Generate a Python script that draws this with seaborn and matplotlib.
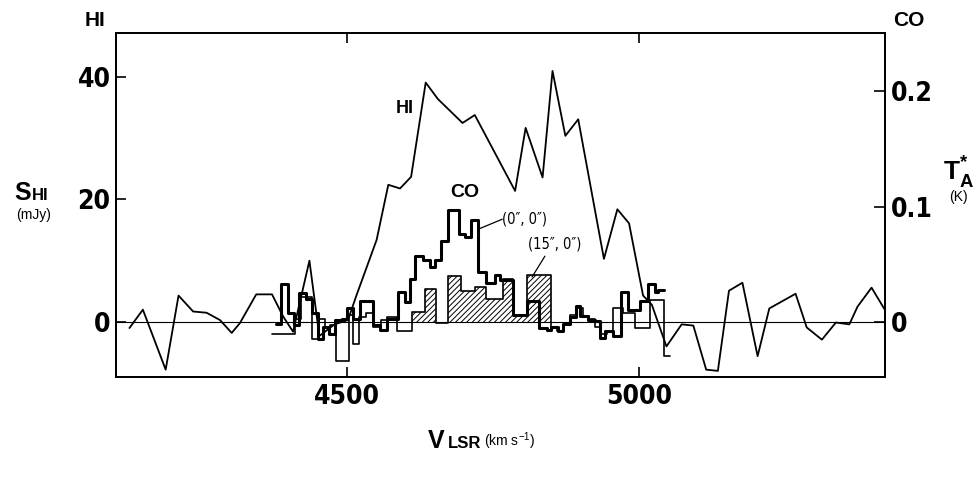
import numpy as np
import pandas as pd
import matplotlib
matplotlib.use('Agg')
import matplotlib.pyplot as plt
import matplotlib.font_manager as fm
import seaborn as sns

# HI profile: velocity (km/s) and flux density (mJy)
hi_vel = [4128, 4151, 4190, 4212, 4237, 4260, 4283, 4303, 4317, 4345, 4365, 4372,
          4391, 4408, 4436, 4453, 4479, 4502, 4516, 4551, 4571, 4591, 4610, 4635,
          4656, 4698, 4719, 4788, 4806, 4835, 4852, 4874, 4896, 4940, 4963, 4983,
          5007, 5022, 5047, 5073, 5093, 5115, 5135, 5154, 5177, 5203, 5223, 5268,
          5287, 5313, 5337, 5360, 5374, 5398, 5420]
hi_flux = [-1.0, 2.0, -7.8, 4.3, 1.7, 1.5, 0.3, -1.8, -0.2, 4.5, 4.5, 4.5,
           0.9, -1.6, 10.0, -2.3, -0.4, 0.3, 4.2, 13.4, 22.4, 21.8, 23.7, 39.1,
           36.4, 32.5, 33.8, 21.4, 31.7, 23.6, 41.0, 30.4, 33.1, 10.3, 18.4, 16.1,
           4.3, 2.8, -4.0, -0.4, -0.6, -7.8, -8.0, 5.1, 6.4, -5.6, 2.2, 4.6,
           -0.9, -2.9, -0.1, -0.4, 2.5, 5.6, 2.1]

# CO (0",0") step spectrum: channel edges (km/s) and T_A* (K) per channel
co00_edges = [4378, 4388, 4399, 4409, 4419, 4431, 4440, 4450, 4460, 4470,
              4480, 4491, 4501, 4511, 4522, 4545, 4556, 4568, 4588, 4599,
              4608, 4617, 4631, 4642, 4651, 4662, 4673, 4692, 4702, 4713,
              4725, 4738, 4753, 4762, 4785, 4808, 4829, 4842, 4850, 4862,
              4870, 4882, 4893, 4899, 4913, 4925, 4933, 4942, 4956, 4970,
              4982, 5002, 5016, 5027, 5033, 5042]
co00_temp = [-0.002, 0.033, 0.008, -0.003, 0.025, 0.020, 0.008, -0.015, -0.004, -0.010,
             0.002, 0.003, 0.012, 0.003, 0.018, -0.003, -0.007, 0.003, 0.026, 0.017,
             0.037, 0.057, 0.054, 0.048, 0.054, 0.070, 0.097, 0.076, 0.074, 0.088,
             0.043, 0.034, 0.041, 0.036, 0.0065, 0.018, -0.005, -0.007, -0.004, -0.008,
             -0.002, 0.004, 0.014, 0.005, 0.002, 0.001, -0.014, -0.008, -0.012, 0.026,
             0.010, 0.018, 0.033, 0.026, 0.028]

# CO (15",0") step spectrum
co15_edges = [4372, 4411, 4421, 4441, 4453, 4462, 4472, 4482, 4503, 4510,
              4521, 4533, 4545, 4558, 4568, 4586, 4611, 4633, 4653, 4673,
              4696, 4719, 4739, 4768, 4785, 4808, 4850, 4860, 4872, 4882,
              4893, 4905, 4915, 4925, 4935, 4945, 4956, 4973, 4993, 5018,
              5043, 5053]
co15_temp = [-0.010, 0.003, 0.022, -0.015, 0.003, -0.004, -0.003, -0.034, 0.006, -0.019,
             0.004, 0.008, -0.004, 0.002, 0.004, -0.008, 0.0085, 0.029, -0.001, 0.040,
             0.027, 0.030, 0.020, 0.037, 0.0065, 0.041, -0.004, -0.008, -0.003, 0.006,
             0.012, 0.005, 0.003, -0.004, -0.010, -0.008, 0.012, 0.008, -0.005, 0.019,
             -0.029]

# velocity range of the hatched (15",0") emission
hatch_range = (4586, 4850)

W, H = 977, 483


def px(x, y):
    """pixel position -> figure fraction"""
    return x / W, 1 - y / H


sns.set_theme(style='ticks')
plt.rcParams['font.family'] = ['Liberation Sans', 'DejaVu Sans']
plt.rcParams['text.color'] = 'black'
plt.rcParams['axes.labelcolor'] = 'black'
plt.rcParams['hatch.linewidth'] = 0.7
plt.rcParams['mathtext.fontset'] = 'custom'
plt.rcParams['mathtext.bf'] = 'Liberation Sans:bold'
plt.rcParams['mathtext.rm'] = 'Liberation Sans'

# condensed face for the numbers (the original uses a narrow bold type)
narrow = fm.FontProperties(family='DejaVu Sans', stretch='condensed', weight='bold', size=19)
narrow_small = fm.FontProperties(family='DejaVu Sans', stretch='condensed', size=10.5)

fig = plt.figure(figsize=(W / 100, H / 100), dpi=100)
ax = fig.add_axes([116 / W, 1 - 377 / H, (885 - 116) / W, (377 - 33) / H])
ax2 = ax.twinx()

# HI
hi_df = pd.DataFrame({'v': hi_vel, 's': hi_flux})
sns.lineplot(data=hi_df, x='v', y='s', ax=ax, color='black', lw=1.3,
             sort=False, estimator=None)
ax.axhline(0, color='black', lw=0.8, zorder=1)

# CO steps
co00_df = pd.DataFrame({'v': co00_edges, 't': co00_temp + [co00_temp[-1]]})
co15_df = pd.DataFrame({'v': co15_edges, 't': co15_temp + [co15_temp[-1]]})

e = co15_df['v'].to_numpy(float)
t = co15_df['t'].to_numpy(float)
inside = (e >= hatch_range[0]) & (e < hatch_range[1])
t_hatch = np.where(inside, np.clip(t, 0, None), 0)
ax2.fill_between(e, 0, t_hatch, step='post', facecolor='none',
                 edgecolor='black', hatch='//////', linewidth=0)

sns.lineplot(data=co15_df, x='v', y='t', ax=ax2, color='black', lw=1.2,
             drawstyle='steps-post', sort=False, estimator=None)
sns.lineplot(data=co00_df, x='v', y='t', ax=ax2, color='black', lw=2.2,
             drawstyle='steps-post', sort=False, estimator=None)

ax.set_xlim(4105, 5421)
ax.set_ylim(-9.0, 47.2)
ax2.set_ylim(-0.0476, 0.2502)
ax.set_xlabel('')
ax.set_ylabel('')
ax2.set_ylabel('')
ax2.grid(False)
ax.grid(False)

ax.set_xticks([4500, 5000])
ax.set_yticks([0, 20, 40])
ax2.set_yticks([0, 0.1, 0.2])
ax2.set_yticklabels(['0', '0.1', '0.2'])
ax.tick_params(axis='x', direction='in', top=True, bottom=True, length=7,
               width=1.2, pad=5, colors='black')
ax.tick_params(axis='y', direction='in', left=True, right=False, length=7,
               width=1.2, pad=4, colors='black')
ax2.tick_params(axis='y', direction='in', right=True, length=8, width=1.2,
                pad=4, colors='black')
for lab in ax.get_xticklabels() + ax.get_yticklabels() + ax2.get_yticklabels():
    lab.set_fontproperties(narrow)

for a in (ax, ax2):
    for sp in a.spines.values():
        sp.set_visible(True)
        sp.set_linewidth(1.3)
        sp.set_color('black')

# labels inside the plot
ax.text(4599, 34.9, 'HI', fontsize=13, fontweight='bold', ha='center', va='center')
ax2.text(4702, 0.112, 'CO', fontsize=14, fontweight='bold', ha='center', va='center')

# leader lines + position labels
ax2.annotate('', xy=(4728, 0.081), xytext=(4766, 0.089),
             arrowprops=dict(arrowstyle='-', color='black', lw=0.9,
                             shrinkA=0, shrinkB=0))
ax2.text(4766, 0.089, '(0″, 0″)', fontproperties=narrow_small, ha='left', va='center')
ax2.annotate('', xy=(4817, 0.039), xytext=(4839, 0.057),
             arrowprops=dict(arrowstyle='-', color='black', lw=0.9,
                             shrinkA=0, shrinkB=0))
ax2.text(4810, 0.0675, '(15″, 0″)', fontproperties=narrow_small, ha='left', va='center')

# axis titles
fig.text(*px(95, 20), 'HI', fontsize=15, fontweight='bold', ha='center', va='center')
fig.text(*px(909, 20), 'CO', fontsize=15, fontweight='bold', ha='center', va='center')

fig.text(*px(14, 200), 'S', fontsize=18, fontweight='bold', ha='left', va='baseline')
fig.text(*px(32, 200), 'HI', fontsize=12, fontweight='bold', ha='left', va='baseline')
fig.text(*px(34, 215), '(mJy)', fontsize=10, ha='center', va='center')

fig.text(*px(943, 180), r'$\mathbf{T}_{\mathbf{A}}^{\mathbf{*}}$', fontsize=19,
         ha='left', va='baseline')
fig.text(*px(958, 197), '(K)', fontsize=10, ha='center', va='center')

fig.text(*px(428, 448), 'V', fontsize=18, fontweight='bold', ha='left', va='baseline')
fig.text(*px(448, 448), 'LSR', fontsize=12, fontweight='bold', ha='left', va='baseline')
fig.text(*px(484, 446), '(km s$^{-1}$)', fontsize=10, ha='left', va='baseline')

fig.savefig('out.png', dpi=100)
